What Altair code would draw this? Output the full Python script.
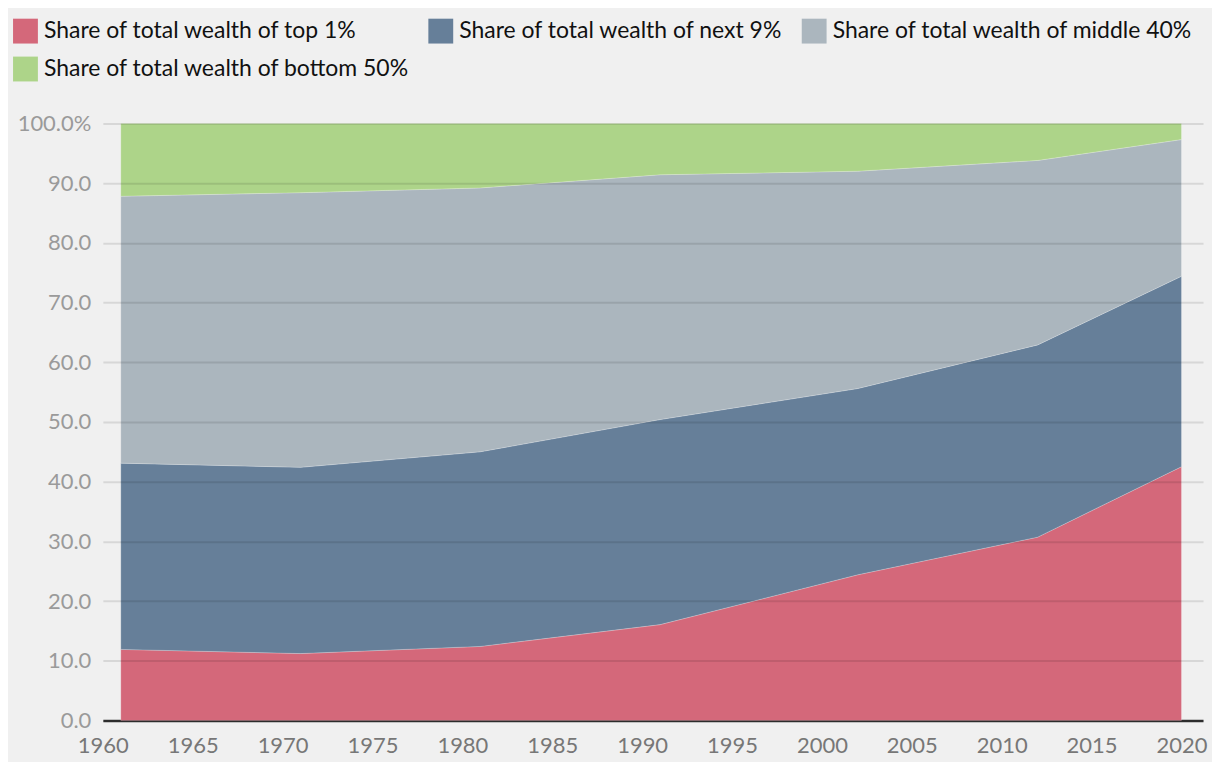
import altair as alt
import pandas as pd

years = [1961, 1971, 1981, 1991, 2002, 2012, 2020]
top1 = [11.9, 11.2, 12.4, 16.05, 24.4, 30.7, 42.5]
next9 = [31.2, 31.2, 32.6, 34.35, 31.2, 32.2, 31.9]
middle40 = [44.7, 46.0, 44.2, 41.0, 36.4, 30.9, 22.9]
bottom50 = [12.2, 11.6, 10.8, 8.6, 8.0, 6.2, 2.7]

series = [
    "Share of total wealth of top 1%",
    "Share of total wealth of next 9%",
    "Share of total wealth of middle 40%",
    "Share of total wealth of bottom 50%",
]
colors = ["#d4687a", "#667f99", "#abb6be", "#add489"]

rows = []
for i, (name, vals) in enumerate(zip(series, [top1, next9, middle40, bottom50])):
    for y, v in zip(years, vals):
        rows.append({"year": y, "share": v, "series": name, "order": i})
df = pd.DataFrame(rows)

chart = alt.Chart(df).mark_area(
    interpolate="linear", stroke="white", strokeWidth=0.6, strokeOpacity=0.35
).encode(
    x=alt.X(
        "year:Q",
        scale=alt.Scale(domain=[1960, 2021.2], nice=False, zero=False),
        axis=alt.Axis(
            values=list(range(1960, 2021, 5)),
            format="d",
            title=None,
            grid=False,
            ticks=False,
            domainColor="#333333",
            domainWidth=2.5,
            labelColor="#777777",
            labelFontSize=22,
            labelPadding=15,
            labelFont="Lato",
            labelFlush=False,
            labelOverlap=False,
        ),
    ),
    y=alt.Y(
        "share:Q",
        stack="zero",
        scale=alt.Scale(domain=[0, 100], nice=False),
        axis=alt.Axis(
            values=list(range(0, 101, 10)),
            labelExpr="datum.value == 100 ? '100.0%' : format(datum.value, '.1f')",
            title=None,
            domain=False,
            ticks=False,
            grid=True,
            gridColor="#000000",
            gridOpacity=0.1,
            gridWidth=2,
            labelColor="#9a9a9a",
            labelFontSize=22,
            labelPadding=12,
            labelFont="Lato",
            zindex=1,
        ),
    ),
    color=alt.Color(
        "series:N",
        scale=alt.Scale(domain=series, range=colors),
        legend=alt.Legend(
            title=None,
            orient="none",
            legendX=-90,
            legendY=-105,
            direction="horizontal",
            columns=3,
            symbolType="square",
            symbolSize=620,
            symbolStrokeWidth=0,
            symbolOpacity=1,
            labelFontSize=23,
            labelFont="Lato",
            labelColor="#111111",
            labelOffset=6,
            columnPadding=18,
            rowPadding=13,
            labelLimit=500,
        ),
    ),
    order=alt.Order("order:Q", sort="ascending"),
).properties(
    width=1102,
    height=598,
    background="#f0f0f0",
    padding={"top": 10, "left": 5, "right": 5, "bottom": 5},
).configure_view(
    stroke=None
)

chart.save("out.html", embed_options={"renderer": "svg", "actions": False})
